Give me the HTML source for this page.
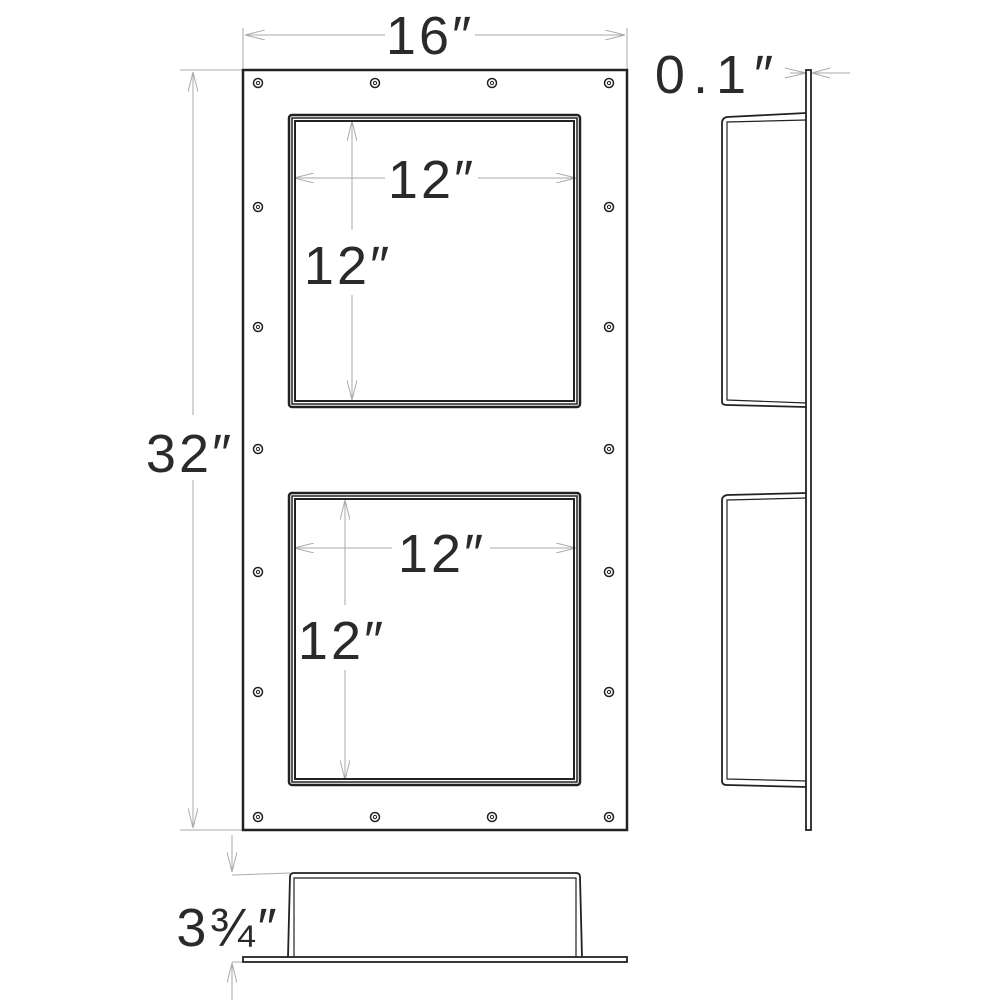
<!DOCTYPE html>
<html><head><style>body{margin:0;background:#fff}svg{display:block}
text{font-family:"Liberation Sans","DejaVu Sans",sans-serif;fill:#2a2a2a}</style></head><body>
<svg width="1000" height="1000" viewBox="0 0 1000 1000" xmlns="http://www.w3.org/2000/svg">
<defs>
<marker id="a" viewBox="0 0 20 10" refX="20" refY="5" markerWidth="20" markerHeight="10" orient="auto-start-reverse" markerUnits="userSpaceOnUse">
<path d="M0,0 L20,5 L0,10" fill="none" stroke="#aaa" stroke-width="1"/></marker>
<g id="s"><circle r="4.5" fill="none" stroke="#222" stroke-width="1.5"/><circle r="1.6" fill="none" stroke="#222" stroke-width="1"/></g>
</defs>
<g stroke="#aaa" stroke-width="1" fill="none">
<line x1="243" y1="28" x2="243" y2="70"/><line x1="627" y1="28" x2="627" y2="70"/>
<line x1="245" y1="35" x2="385" y2="35" marker-start="url(#a)"/><line x1="475" y1="35" x2="625" y2="35" marker-end="url(#a)"/>
<line x1="180" y1="70" x2="243" y2="70"/><line x1="180" y1="830" x2="243" y2="830"/>
<line x1="193" y1="72" x2="193" y2="415" marker-start="url(#a)"/><line x1="193" y1="480" x2="193" y2="828" marker-end="url(#a)"/>
<line x1="294" y1="178" x2="385" y2="178" marker-start="url(#a)"/><line x1="478" y1="178" x2="576" y2="178" marker-end="url(#a)"/>
<line x1="352" y1="121" x2="352" y2="230" marker-start="url(#a)"/><line x1="352" y1="295" x2="352" y2="400" marker-end="url(#a)"/>
<line x1="294" y1="548" x2="392" y2="548" marker-start="url(#a)"/><line x1="490" y1="548" x2="576" y2="548" marker-end="url(#a)"/>
<line x1="345" y1="500" x2="345" y2="605" marker-start="url(#a)"/><line x1="345" y1="670" x2="345" y2="780" marker-end="url(#a)"/>
<line x1="790" y1="73" x2="806" y2="73"/><line x1="812" y1="73" x2="850" y2="73"/>
<line x1="785" y1="68" x2="806" y2="73"/><line x1="785" y1="78" x2="806" y2="73"/>
<line x1="830" y1="68" x2="812" y2="73"/><line x1="830" y1="78" x2="812" y2="73"/>
<line x1="232" y1="875" x2="290" y2="873"/><line x1="232" y1="962" x2="243" y2="962"/>
<line x1="232" y1="835" x2="232" y2="872" marker-end="url(#a)"/><line x1="232" y1="1000" x2="232" y2="963" marker-end="url(#a)"/>
</g>
<g fill="none" stroke="#222">
<rect x="243" y="70" width="384" height="760" stroke-width="2.5"/>
<rect x="289" y="115" width="291" height="292" rx="3" stroke-width="2.5"/>
<rect x="295" y="121" width="279" height="280" stroke-width="2"/>
<rect x="292" y="118" width="285" height="286" stroke-width="1.5"/>
<rect x="289" y="493" width="291" height="292" rx="3" stroke-width="2.5"/>
<rect x="295" y="499" width="279" height="280" stroke-width="2"/>
<rect x="292" y="496" width="285" height="286" stroke-width="1.5"/>
<rect x="806" y="70" width="5" height="760" stroke-width="1.8"/>
<path d="M806,113 L727,117 Q722,118 722,123 L722,402 Q722,405 727,405 L806,407" stroke-width="1.8"/>
<path d="M806,120 L727,122 L727,400 L806,403" stroke-width="1.2"/>
<path d="M806,493 L727,495 Q722,496 722,500 L722,781 Q722,785 727,785 L806,787" stroke-width="1.8"/>
<path d="M806,498 L727,500 L727,779 L806,781" stroke-width="1.2"/>
<rect x="243" y="957" width="384" height="5" stroke-width="1.8"/>
<path d="M288,957 L290,877 Q290,873 294,873 L576,873 Q580,873 580,877 L582,957" stroke-width="1.8"/>
<path d="M294,957 L294,878 L576,878 L576,957" stroke-width="1.2"/>
</g>
<g>
<use href="#s" x="258" y="83"/><use href="#s" x="375" y="83"/><use href="#s" x="492" y="83"/><use href="#s" x="609" y="83"/>
<use href="#s" x="258" y="817"/><use href="#s" x="375" y="817"/><use href="#s" x="492" y="817"/><use href="#s" x="609" y="817"/>
<use href="#s" x="258" y="207"/><use href="#s" x="609" y="207"/><use href="#s" x="258" y="327"/><use href="#s" x="609" y="327"/>
<use href="#s" x="258" y="449"/><use href="#s" x="609" y="449"/><use href="#s" x="258" y="572"/><use href="#s" x="609" y="572"/>
<use href="#s" x="258" y="692"/><use href="#s" x="609" y="692"/>
</g>
<g font-size="54" text-anchor="middle" letter-spacing="3">
<text x="430" y="54">16″</text>
<text x="190" y="472">32″</text>
<text x="432" y="198">12″</text>
<text x="348" y="284">12″</text>
<text x="442" y="572">12″</text>
<text x="342" y="659">12″</text>
<text x="718" y="93" letter-spacing="8">0.1″</text>
<text x="228" y="946">3¾″</text>
</g>
</svg>
</body></html>
